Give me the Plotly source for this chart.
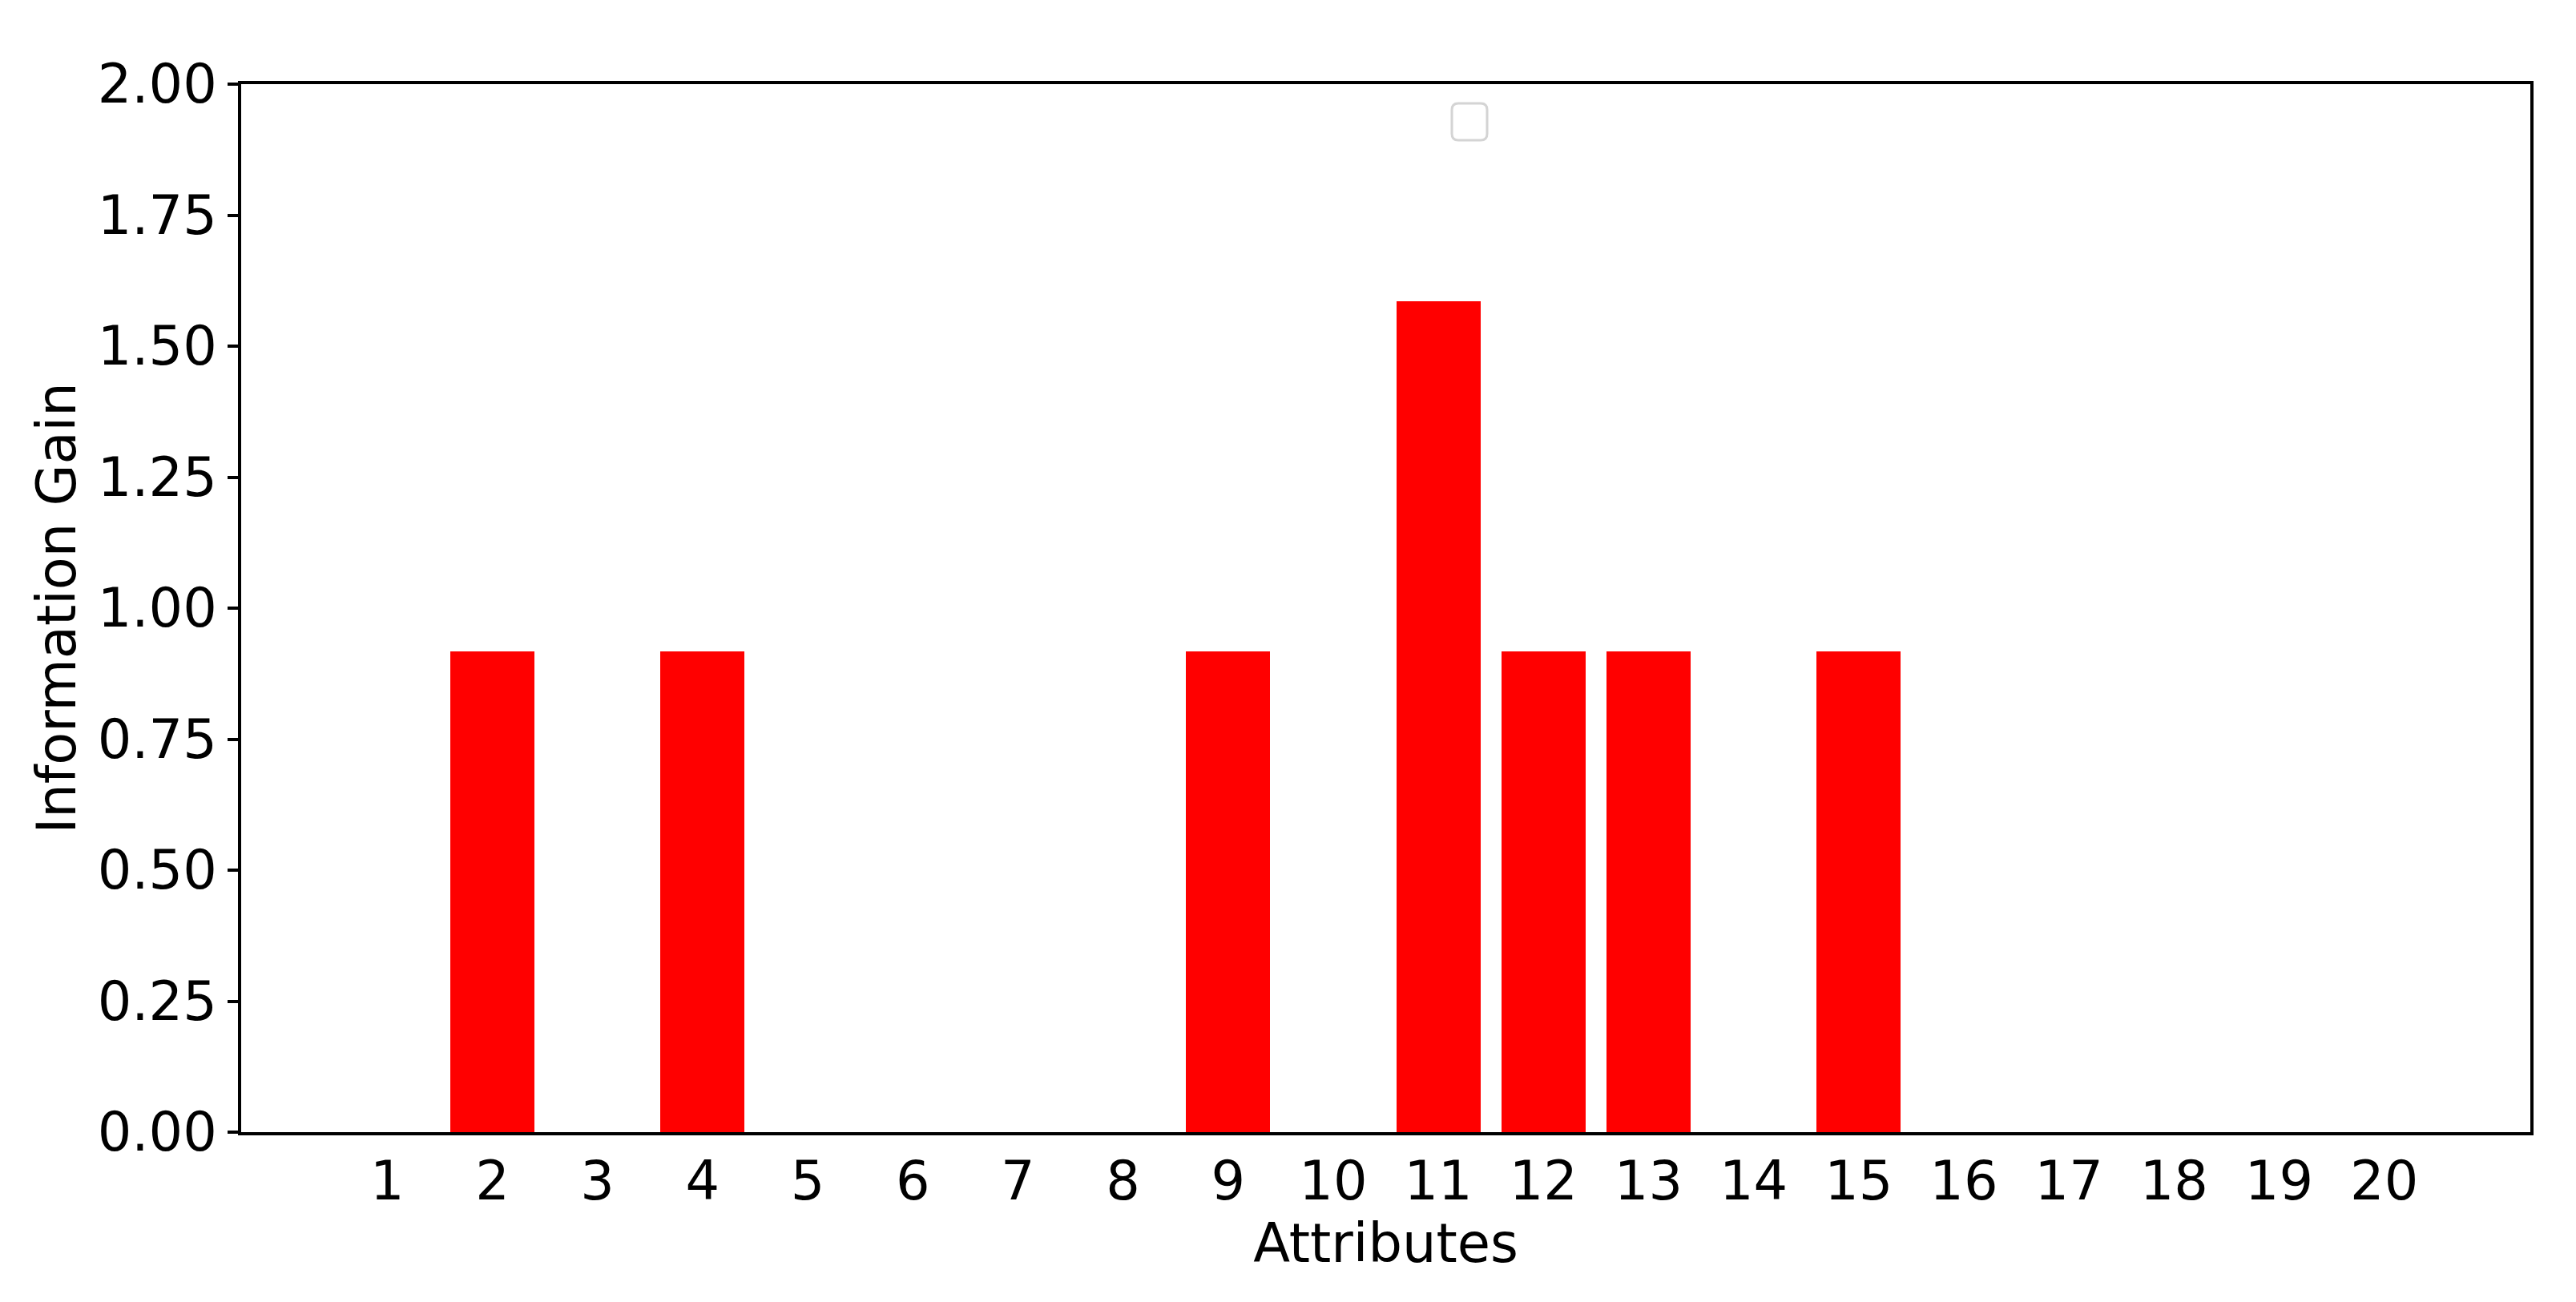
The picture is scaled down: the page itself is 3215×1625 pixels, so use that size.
import plotly.graph_objects as go

# information gain per attribute
attributes = list(range(1, 21))
info_gain = [0, 0.918, 0, 0.918, 0, 0, 0, 0, 0.918, 0,
             1.585, 0.918, 0.918, 0, 0.918, 0, 0, 0, 0, 0]
y_ticks = [0, 0.25, 0.5, 0.75, 1.0, 1.25, 1.5, 1.75, 2.0]

# page body has an 8px default margin, so shrink the figure by that
W, H = 3215 - 8, 1625 - 8
L, R, T, B = 293, 57, 97, 212
FONT = "DejaVu Sans"
FS = 67
X_RANGE = [-0.39, 21.39]

fig = go.Figure(
    go.Bar(
        x=attributes,
        y=info_gain,
        width=0.8,
        marker=dict(color="#ff0000", line=dict(width=0)),
    )
)

# empty matplotlib-style legend frame (rounded box)
pw, ph = W - L - R, H - T - B
x0, x1 = (1812 - 8 - L) / pw, (1856 - 8 - L) / pw
y0, y1 = 1 - (175 - 8 - T) / ph, 1 - (129 - 8 - T) / ph
rx, ry = 8 / pw, 8 / ph
path = (f"M {x0+rx},{y0} L {x1-rx},{y0} Q {x1},{y0} {x1},{y0+ry} "
        f"L {x1},{y1-ry} Q {x1},{y1} {x1-rx},{y1} L {x0+rx},{y1} "
        f"Q {x0},{y1} {x0},{y1-ry} L {x0},{y0+ry} Q {x0},{y0} {x0+rx},{y0} Z")
fig.add_shape(type="path", path=path, xref="paper", yref="paper",
              line=dict(color="#d4d4d4", width=3), fillcolor="rgba(255,255,255,0.8)")

tfont = dict(family=FONT, size=FS, color="black")

fig.update_layout(
    width=W, height=H,
    margin=dict(l=L, r=R, t=T, b=B, autoexpand=False),
    plot_bgcolor="white", paper_bgcolor="white",
    showlegend=False,
    bargap=0,
    xaxis=dict(
        showline=True, linecolor="black", linewidth=3.5, mirror=True,
        showgrid=False, zeroline=False,
        ticks="", tickfont=tfont,
        range=X_RANGE,
        tickvals=attributes,
        ticktext=[str(a) for a in attributes],
        title=dict(text="Attributes", font=tfont, standoff=6),
    ),
    # tick marks only, so the labels above can sit closer to the axis
    xaxis2=dict(
        overlaying="x", side="bottom", range=X_RANGE,
        tickvals=attributes, showticklabels=False,
        ticks="outside", ticklen=13, tickwidth=3.5, tickcolor="black",
        showline=False, showgrid=False, zeroline=False,
    ),
    yaxis=dict(
        showline=True, linecolor="black", linewidth=3.5, mirror=True,
        showgrid=False, zeroline=False,
        ticks="outside", ticklen=13, tickwidth=3.5, tickcolor="black",
        tickfont=tfont,
        range=[0, 2],
        tickvals=y_ticks,
        tickformat=".2f",
        title=dict(text="Information Gain", font=tfont, standoff=6),
    ),
)

fig.write_html("out.html")
